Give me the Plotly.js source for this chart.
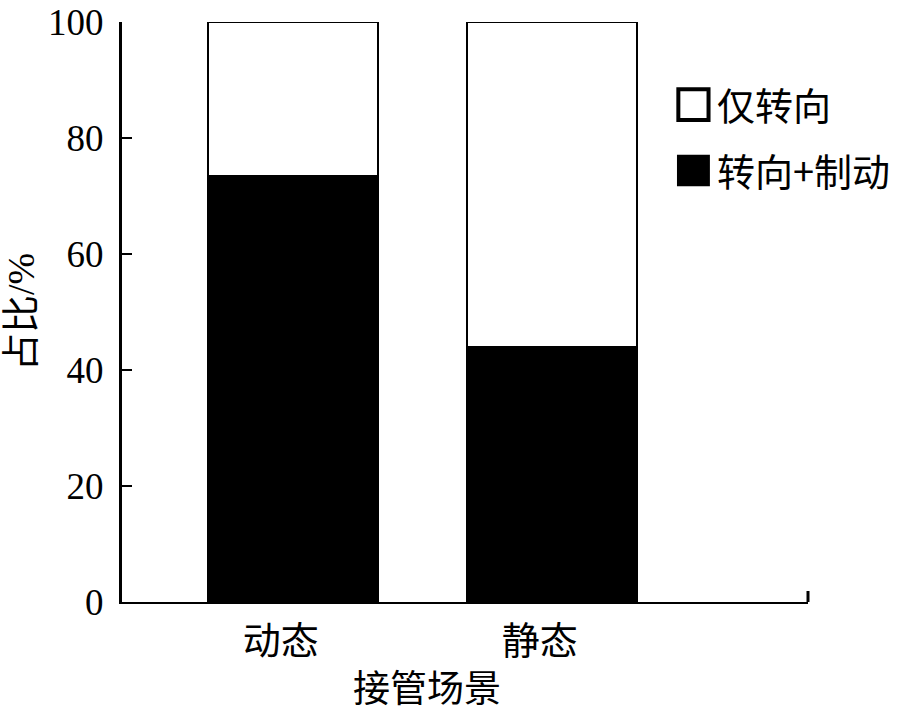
<!DOCTYPE html>
<html>
<head>
<meta charset="utf-8">
<script src="https://cdn.plot.ly/plotly-3.0.1.min.js"></script>
<style>html,body{margin:0;padding:0;background:#fff;}#chart{width:900px;height:715px;}</style>
</head>
<body>
<div id="chart"></div>
<script>
var categories = ["动态", "静态"];
var seriesNames = ["转向+制动", "仅转向"];
var steerBrake = [73.5, 44];
var steerOnly = [26.5, 56];
var yTickVals = [0, 20, 40, 60, 80, 100];
var yTickText = ["0", "20", "40", "60", "80", "100"];
var xTitle = "接管场景";
var yTitle = "占比/%";

var FONT = "Liberation Serif, Times New Roman, Noto Sans CJK SC, serif";
var CJK = "Noto Sans CJK SC, Liberation Serif, serif";

var traces = [
  {type: "bar", x: categories, y: steerBrake, name: seriesNames[0], showlegend: false,
   width: 0.656, marker: {color: "#000", line: {color: "#000", width: 2}}},
  {type: "bar", x: categories, y: steerOnly, name: seriesNames[1], showlegend: false,
   width: 0.656, marker: {color: "#fff", line: {color: "#000", width: 2}}}
];

var layout = {
  width: 900, height: 715,
  margin: {l: 122, r: 92, t: 22, b: 113},
  paper_bgcolor: "#fff", plot_bgcolor: "#fff",
  barmode: "stack",
  showlegend: false,
  font: {family: FONT, color: "#000"},
  xaxis: {
    type: "category", range: [-0.66, 1.99],
    showline: true, linecolor: "#000", linewidth: 2,
    ticks: "", showgrid: false, zeroline: false,
    tickfont: {family: CJK, size: 38, color: "#000"},
    ticklabelshift: -12, ticklabelstandoff: 4
  },
  yaxis: {
    range: [0, 100.05], tickmode: "array", tickvals: yTickVals, ticktext: yTickText,
    ticklabeloverflow: "allow",
    showline: true, linecolor: "#000", linewidth: 3,
    ticks: "inside", ticklen: 10, tickwidth: 2, tickcolor: "#000",
    showgrid: false, zeroline: false,
    tickfont: {family: FONT, size: 37, color: "#000"},
    ticklabelstandoff: 8,
    title: {text: yTitle, font: {family: FONT, size: 38, color: "#000"}, standoff: 6}
  },
  shapes: [
    {type: "line", xref: "paper", yref: "paper", x0: 1, x1: 1, y0: 0, y1: 0.019, line: {color: "#000", width: 3}},
    {type: "rect", xref: "paper", yref: "paper", x0: 0.811, x1: 0.855, y0: 0.831, y1: 0.884, line: {color: "#000", width: 4}, fillcolor: "#fff"},
    {type: "rect", xref: "paper", yref: "paper", x0: 0.809, x1: 0.857, y0: 0.717, y1: 0.771, line: {color: "#000", width: 0}, fillcolor: "#000"}
  ],
  annotations: [
    {xref: "paper", yref: "paper", x: 0.865, y: 0.859, xanchor: "left", yanchor: "middle", showarrow: false,
     text: seriesNames[1], font: {family: CJK, size: 38, color: "#000"}},
    {xref: "paper", yref: "paper", x: 0.865, y: 0.745, xanchor: "left", yanchor: "middle", showarrow: false,
     text: seriesNames[0], font: {family: CJK, size: 38, color: "#000"}},
    {xref: "paper", yref: "paper", x: 0.445, y: -0.145, xanchor: "center", yanchor: "middle", showarrow: false,
     text: xTitle, font: {family: CJK, size: 37, color: "#000"}}
  ]
};

Plotly.newPlot("chart", traces, layout, {displayModeBar: false, staticPlot: true});
</script>
</body>
</html>
